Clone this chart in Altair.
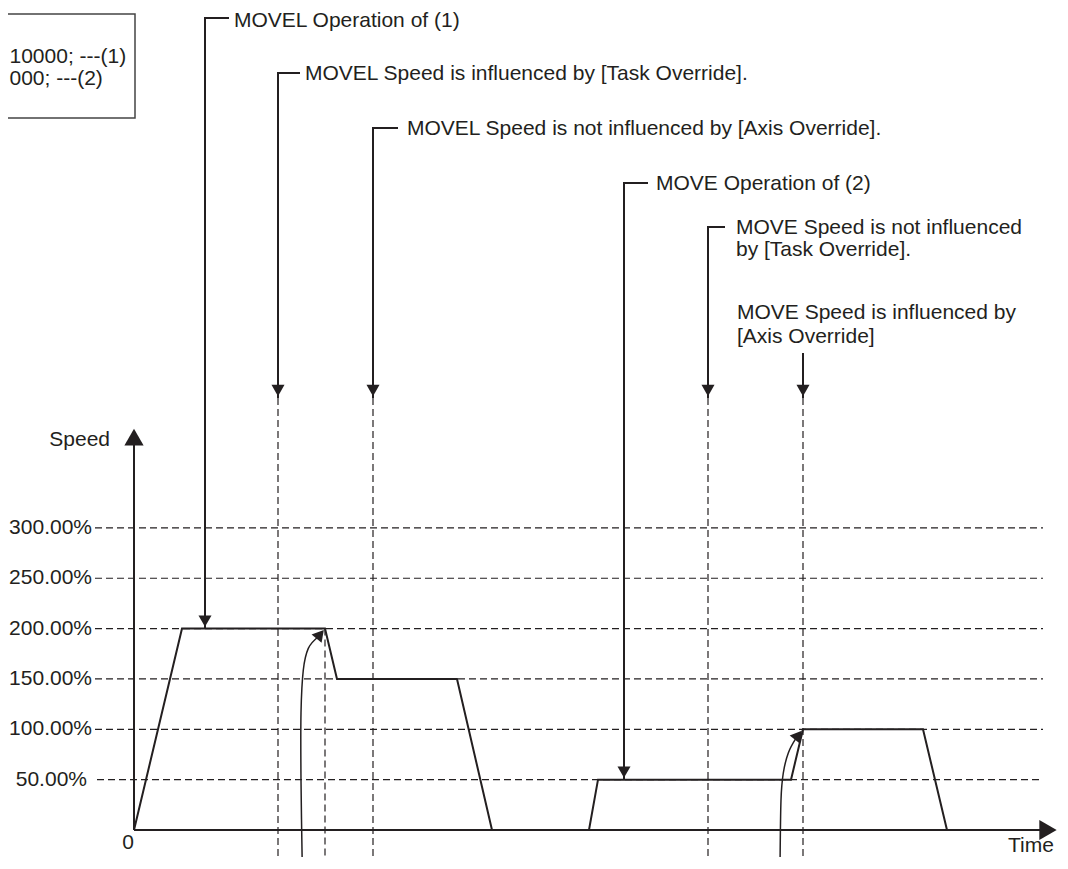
import altair as alt
import pandas as pd

# ---------------- data (time: arbitrary units, speed: %) ----------------
profile_time = [0, 4.8, 19.1, 20.3, 32.3, 35.8, 45.5, 46.4, 65.7, 66.9, 78.9, 81.3]
profile_speed = [0, 200, 200, 150, 150, 0, 0, 50, 50, 100, 100, 0]

grid_speed = [300, 250, 200, 150, 100, 50]
grid_labels = ["300.00%", "250.00%", "200.00%", "150.00%", "100.00%", "50.00%"]
grid_label_time = [-4.2, -4.2, -4.2, -4.2, -4.2, -4.7]
grid_start_time = [-3.9, -3.9, -3.9, -3.9, -3.9, -3.7]

marker_time = [14.4, 19.1, 23.9, 57.4, 66.9]
marker_top = [429, 200, 429, 429, 429]

note_labels = [
    "MOVEL Operation of (1)",
    "MOVEL Speed is influenced by [Task Override].",
    "MOVEL Speed is not influenced by [Axis Override].",
    "MOVE Operation of (2)",
    "MOVE Speed is not influenced",
]
note_time = [7.1, 14.4, 23.9, 49.0, 57.4]
note_top = [806.4, 751.7, 697.1, 642.5, 598.8]
note_text_speed = [802.9, 751.2, 696.6, 642.0, 598.3]
note_tip = [200, 429, 429, 50, 429]
note_stub_end = [9.5, 16.6, 26.4, 51.4, 59.1]
note_text_time = [10.0, 17.1, 27.3, 52.2, 60.2]

extra_labels = ["by [Task Override].", "MOVE Speed is influenced by", "[Axis Override]"]
extra_time = [60.2, 60.3, 60.3]
extra_speed = [575.5, 513.0, 489.2]

axis_arrow_time = 66.9
axis_arrow_from = 473.7
axis_arrow_to = 429

curve_a_time = [16.83, 16.7, 16.7, 16.93, 17.43, 18.4]
curve_a_speed = [-38.7, 49.7, 116.2, 158.9, 180.4, 191.7]
curve_b_time = [64.6, 64.7, 64.93, 65.43, 66.22]
curve_b_speed = [-38.7, 29.8, 56.6, 76.5, 91.4]
curve_tips_time = [19.1, 66.9]
curve_tips_speed = [200, 100]

box_time = [-14.2, 0.1, 0.1, -14.2]
box_speed = [810.3, 810.3, 707.1, 707.1]
box_labels = ["10000; ---(1)", "000; ---(2)"]
box_label_speed = [767.6, 745.8]

T_MIN, T_MAX = -12.6, 92.6
S_MIN, S_MAX = -26.81, 816.29

INK = "#231f20"
FONT = "Liberation Sans"
FS = 21

XS = alt.Scale(domain=[T_MIN, T_MAX], nice=False, zero=False)
YS = alt.Scale(domain=[S_MIN, S_MAX], nice=False, zero=False)


def X(f):
    return alt.X(f, type="quantitative", scale=XS, axis=None)


def X2(f):
    return alt.X2(f)


def Y(f):
    return alt.Y(f, type="quantitative", scale=YS, axis=None)


# ---------------- tables ----------------
grid_df = pd.DataFrame({"s": grid_speed, "label": grid_labels,
                        "t0": grid_start_time, "t1": [90.9] * len(grid_speed),
                        "tl": grid_label_time})
marker_df = pd.DataFrame({"t": marker_time, "top": marker_top, "bot": [S_MIN] * len(marker_time)})
profile_df = pd.DataFrame({"t": profile_time, "s": profile_speed, "o": list(range(len(profile_time)))})

bracket_rows = []
for i in range(len(note_time)):
    bracket_rows.append({"id": i, "o": 0, "t": note_stub_end[i], "s": note_top[i]})
    bracket_rows.append({"id": i, "o": 1, "t": note_time[i], "s": note_top[i]})
    bracket_rows.append({"id": i, "o": 2, "t": note_time[i], "s": note_tip[i]})
bracket_rows.append({"id": 9, "o": 0, "t": axis_arrow_time, "s": axis_arrow_from})
bracket_rows.append({"id": 9, "o": 1, "t": axis_arrow_time, "s": axis_arrow_to})
bracket_df = pd.DataFrame(bracket_rows)

tips_df = pd.DataFrame({"t": note_time + [axis_arrow_time], "s": note_tip + [axis_arrow_to]})

text_df = pd.DataFrame({"t": note_text_time + extra_time,
                        "s": note_text_speed + extra_speed,
                        "label": note_labels + extra_labels})

curve_rows = []
for k, (ct, cs) in enumerate([(curve_a_time, curve_a_speed), (curve_b_time, curve_b_speed)]):
    for j, (a, b) in enumerate(zip(ct, cs)):
        curve_rows.append({"id": k, "o": j, "t": a, "s": b})
curve_df = pd.DataFrame(curve_rows)

box_df = pd.DataFrame({"t": box_time, "s": box_speed, "o": [0, 1, 2, 3]})
box_text_df = pd.DataFrame({"t": [-12.45, -12.45], "s": box_label_speed, "label": box_labels})

# ---------------- layers ----------------
grid = alt.Chart(grid_df).mark_rule(strokeDash=[7, 4], strokeWidth=1.2, color=INK).encode(
    x=X("t0"), x2=X2("t1"), y=Y("s"))
grid_text = alt.Chart(grid_df).mark_text(align="right", baseline="middle", font=FONT,
                                         fontSize=FS, color=INK).encode(
    x=X("tl"), y=Y("s"), text="label")

markers = alt.Chart(marker_df).mark_rule(strokeDash=[7, 4], strokeWidth=1.2, color=INK).encode(
    x=X("t"), y=Y("top"), y2=alt.Y2("bot"))

profile = alt.Chart(profile_df).mark_line(color=INK, strokeWidth=2).encode(
    x=X("t"), y=Y("s"), order="o:Q")

axis_df = pd.DataFrame({"t0": [0], "t1": [91.4], "s0": [0], "s1": [390.0]})
x_axis = alt.Chart(axis_df).mark_rule(color=INK, strokeWidth=2).encode(
    x=X("t0"), x2=X2("t1"), y=Y("s0"))
y_axis = alt.Chart(axis_df).mark_rule(color=INK, strokeWidth=2).encode(
    x=X("t0"), y=Y("s0"), y2=alt.Y2("s1"))

arrow_x = alt.Chart(pd.DataFrame({"t": [92.55], "s": [0]})).mark_point(
    shape="triangle-right", size=400, filled=True, opacity=1, color=INK, xOffset=-11.5).encode(
    x=X("t"), y=Y("s"))
arrow_y = alt.Chart(pd.DataFrame({"t": [0], "s": [401.2]})).mark_point(
    shape="triangle-up", size=370, filled=True, opacity=1, color=INK, yOffset=11.1).encode(
    x=X("t"), y=Y("s"))

axis_text_df = pd.DataFrame({"t": [-2.4], "s": [387.3], "label": ["Speed"]})
speed_lbl = alt.Chart(axis_text_df).mark_text(align="right", baseline="middle", font=FONT,
                                              fontSize=FS, color=INK).encode(
    x=X("t"), y=Y("s"), text="label")
time_lbl = alt.Chart(pd.DataFrame({"t": [87.4], "s": [-15.9], "label": ["Time"]})).mark_text(
    align="left", baseline="middle", font=FONT, fontSize=FS, color=INK).encode(
    x=X("t"), y=Y("s"), text="label")
zero_lbl = alt.Chart(pd.DataFrame({"t": [-0.6], "s": [-12.9], "label": ["0"]})).mark_text(
    align="center", baseline="middle", font=FONT, fontSize=FS, color=INK).encode(
    x=X("t"), y=Y("s"), text="label")

brackets = alt.Chart(bracket_df).mark_line(color=INK, strokeWidth=2).encode(
    x=X("t"), y=Y("s"), detail="id:N", order="o:Q")
tips = alt.Chart(tips_df).mark_point(shape="triangle-down", size=170, filled=True, opacity=1,
                                     color=INK, yOffset=-7.5).encode(x=X("t"), y=Y("s"))
notes = alt.Chart(text_df).mark_text(align="left", baseline="middle", font=FONT, fontSize=FS,
                                     color=INK).encode(x=X("t"), y=Y("s"), text="label")

curves = alt.Chart(curve_df).mark_line(color=INK, strokeWidth=1.5, interpolate="cardinal").encode(
    x=X("t"), y=Y("s"), detail="id:N", order="o:Q")
tip_a = alt.Chart(pd.DataFrame({"t": [curve_tips_time[0]], "s": [curve_tips_speed[0]]})).mark_point(
    shape="triangle-up", size=170, filled=True, opacity=1, color=INK, angle=40,
    xOffset=-4.8, yOffset=5.7).encode(x=X("t"), y=Y("s"))
tip_b = alt.Chart(pd.DataFrame({"t": [curve_tips_time[1]], "s": [curve_tips_speed[1]]})).mark_point(
    shape="triangle-up", size=170, filled=True, opacity=1, color=INK, angle=39,
    xOffset=-4.7, yOffset=5.8).encode(x=X("t"), y=Y("s"))

box = alt.Chart(box_df).mark_line(color="#444444", strokeWidth=1.5).encode(
    x=X("t"), y=Y("s"), order="o:Q")
box_text = alt.Chart(box_text_df).mark_text(align="left", baseline="middle", font=FONT,
                                            fontSize=FS, color=INK).encode(
    x=X("t"), y=Y("s"), text="label")

chart = alt.layer(
    grid, grid_text, markers, profile, x_axis, y_axis, arrow_x, arrow_y,
    speed_lbl, time_lbl, zero_lbl, brackets, tips, notes, curves, tip_a, tip_b,
    box, box_text,
).properties(
    width=1052, height=849, padding=0,
    autosize=alt.AutoSizeParams(type="none"),
    background="white",
).configure_view(stroke=None)

chart.save("out.html", embed_options={"renderer": "svg", "actions": False})
